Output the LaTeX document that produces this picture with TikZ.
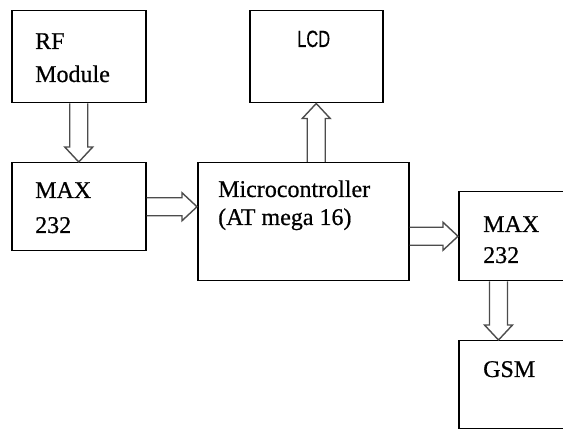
\documentclass[tikz,border=0pt]{standalone}
\usepackage{fontspec}
\usepackage{graphicx}
\setmainfont{Liberation Serif}[FakeBold=0.6]
\newfontfamily\lcdfont{Liberation Sans}[FakeBold=0.4]
\usetikzlibrary{calc}
\tikzset{
  box/.style={draw=black, line width=1.5pt, rectangle, anchor=north west, inner sep=0pt},
  lbl/.style={anchor=base west, inner sep=0pt, font=\fontsize{24}{33}\selectfont},
  arr/.style={draw=black!70, line width=1.4pt, line join=miter},
}
\newcommand{\blockarrow}[2]{%
  \path ($(#2)!15pt!(#1)$) coordinate (hb);
  \draw[arr] ($(#1)!9pt!90:(#2)$) -- ($(hb)!9pt!90:(#2)$) -- ($(hb)!14pt!90:(#2)$) -- (#2)
    -- ($(hb)!14pt!-90:(#2)$) -- ($(hb)!9pt!-90:(#2)$) -- ($(#1)!9pt!-90:(#2)$);}
\begin{document}
\begin{tikzpicture}[x=1pt,y=-1pt]
\useasboundingbox (0,0) rectangle (563,430);
\fill[white] (0,0) rectangle (563,430);
\clip (0,0) rectangle (563,430);
% boxes
\node[box, minimum width=134pt, minimum height=92pt] (rf) at (11,10) {};
\node[box, minimum width=134pt, minimum height=88pt] (maxL) at (11,162) {};
\node[box, minimum width=211pt, minimum height=118pt] (mcu) at (197,162) {};
\node[box, minimum width=133pt, minimum height=92pt] (lcd) at (249,10) {};
\node[box, minimum width=150pt, minimum height=89pt] (maxR) at (458,191) {};
\node[box, minimum width=150pt, minimum height=88pt] (gsm) at (458,340) {};
% labels
\node[lbl] (trf) at (35,49) {RF};
\node[lbl] (tmod) at (35,82) {Module};
\node[lbl] (tmaxL) at (35,198) {MAX};
\node[lbl] (tmaxLn) at (35,233) {232};
\node[lbl] (tmcu) at (218,197) {Microcontroller};
\node[lbl] (tat) at (218,225) {(AT mega 16)};
\node[anchor=base west, inner sep=0pt] (tlcd) at (297,47) {\scalebox{0.7}[1]{\lcdfont\fontsize{23.5}{28}\selectfont LCD}};
\node[lbl] (tmaxR) at (483,232) {MAX};
\node[lbl] (tmaxRn) at (483,263) {232};
\node[lbl] (tgsm) at (483,377) {GSM};
% connector end points
\coordinate (a1) at (maxL.east);
\coordinate (a2) at (a1 -| mcu.west);
\coordinate (b2) at (lcd.south);
\coordinate (b1) at (b2 |- mcu.north);
\coordinate (c2) at (maxR.west);
\coordinate (c1) at (c2 -| mcu.east);
\coordinate (d1) at ($(maxR.south west)+(40.5,0)$);
\coordinate (d2) at (d1 |- gsm.north);
% arrows
\blockarrow{rf.south}{maxL.north}
\blockarrow{a1}{a2}
\blockarrow{b1}{b2}
\blockarrow{c1}{c2}
\blockarrow{d1}{d2}
\end{tikzpicture}
\end{document}
